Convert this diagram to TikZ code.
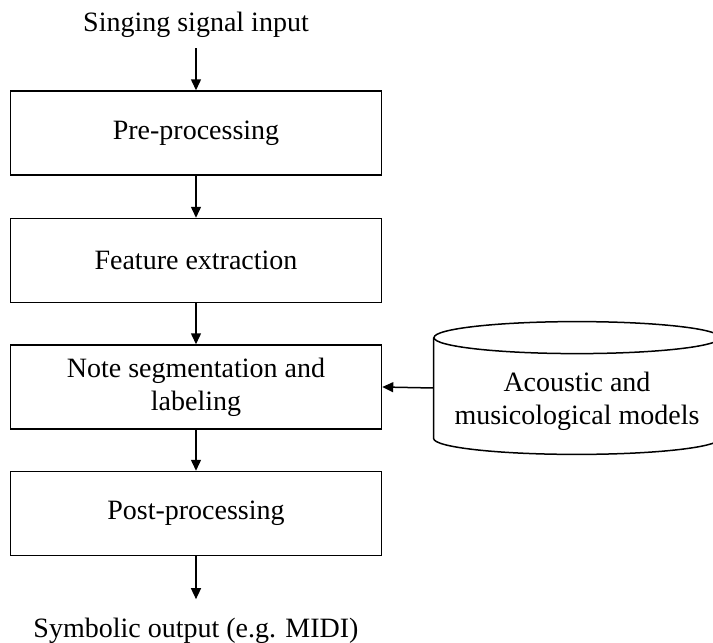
\documentclass[tikz,border=0pt]{standalone}
\usepackage{fontspec}
\setmainfont{Liberation Serif}
\usetikzlibrary{arrows.meta}
\begin{document}
\begin{tikzpicture}[x=0.5pt,y=-0.5pt,
  every node/.style={font=\fontsize{14}{16.5}\selectfont},
  stage/.style={draw, line width=0.75pt, minimum width=185.5pt, minimum height=42pt, align=center, inner sep=0pt},
  plain/.style={inner sep=0pt, align=center},
  flow/.style={-{Triangle[length=5.5pt,width=5pt]}, line width=0.75pt},
  cyl/.style={inner sep=0pt, minimum width=143pt, minimum height=50pt}]
  \useasboundingbox (0,0) rectangle (713,643);

  % processing chain
  \node[plain, anchor=base] (in) at (196,31) {Singing signal input};
  \node[stage] (pre)  at (196,133)   {Pre-processing};
  \node[stage] (feat) at (196,260.5) {Feature extraction};
  \node[stage] (note) at (196,387)   {Note segmentation and\\labeling};
  \node[stage] (post) at (196,513.5) {Post-processing};
  \node[plain, anchor=base] (out) at (196,637) {Symbolic output (e.g. MIDI)};

  \draw[flow, shorten <=5.5pt] (in) -- (pre);
  \draw[flow] (pre) -- (feat);
  \draw[flow] (feat) -- (note);
  \draw[flow] (note) -- (post);
  \draw[flow, shorten >=9pt] (post) -- (out);

  % model database (cylinder)
  \node[cyl] (models) at (577,388) {};
  \draw[line width=0.75pt] (models.north west) -- (models.south west)
    arc[start angle=180, end angle=360, x radius=71.5pt, y radius=8pt]
    -- (models.north east);
  \draw[line width=0.75pt] (models.north) ellipse[x radius=71.5pt, y radius=8pt];
  \node[plain] (modelstext) at (577,401) {Acoustic and\\musicological models};

  \draw[flow] (models.west) -- (note.east);
\end{tikzpicture}
\end{document}
